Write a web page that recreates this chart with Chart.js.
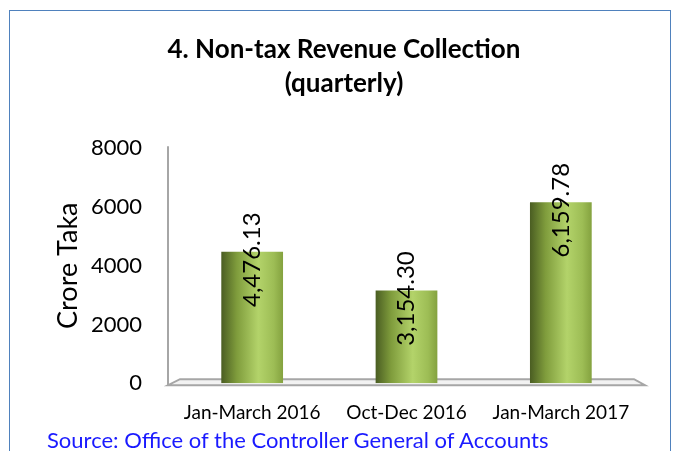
<!DOCTYPE html>
<html>
<head>
<meta charset="utf-8">
<script src="https://cdn.jsdelivr.net/npm/chart.js@4.4.0/dist/chart.umd.min.js"></script>
<style>
  html, body { margin: 0; padding: 0; background: #fff; }
  #wrap { position: relative; width: 680px; height: 451px; overflow: hidden; }
  #frame { position: absolute; left: 9px; top: 10px; width: 662px; height: 460px; border: 1.5px solid #4f81bd; box-sizing: border-box; }
  #src { position: absolute; left: 47px; top: 427px; font: 22px Lato, sans-serif; line-height: 26px; color: #1a1aff; }
  canvas { position: absolute; left: 0; top: 0; }
</style>
</head>
<body>
<div id="wrap">
  <div id="frame"></div>
  <canvas id="c" width="680" height="451"></canvas>
  <div id="src">Source: Office of the Controller General of Accounts</div>
</div>
<script>
const categories = ['Jan-March 2016', 'Oct-Dec 2016', 'Jan-March 2017'];
const revenue = [4476.13, 3154.30, 6159.78];
const yTicks = [0, 2000, 4000, 6000, 8000];

// cylinder-ish shading per bar
function barShade(c) {
  const el = c.chart.getDatasetMeta(0).data[c.dataIndex];
  if (!el || !el.width) return '#9dbd55';
  const g = c.chart.ctx.createLinearGradient(el.x - el.width / 2, 0, el.x + el.width / 2, 0);
  g.addColorStop(0, '#4a5d22');
  g.addColorStop(0.25, '#7f9c3c');
  g.addColorStop(0.6, '#b3d36a');
  g.addColorStop(0.85, '#9dbd55');
  g.addColorStop(1, '#84a23f');
  return g;
}

// 3D floor, y axis line and rotated value labels
const decor = {
  id: 'decor',
  beforeDatasetsDraw(chart) {
    const ctx = chart.ctx;
    const a = chart.chartArea;
    ctx.save();
    ctx.beginPath();
    ctx.moveTo(a.left - 7, a.bottom + 2);
    ctx.lineTo(a.right + 7, a.bottom + 2);
    ctx.lineTo(a.right - 4, a.bottom - 4);
    ctx.lineTo(a.left + 5, a.bottom - 4);
    ctx.closePath();
    ctx.fillStyle = '#f2f2f2';
    ctx.fill();
    ctx.strokeStyle = '#a6a6a6';
    ctx.lineWidth = 2;
    ctx.stroke();
    ctx.beginPath();
    ctx.moveTo(a.left - 7, a.top - 2);
    ctx.lineTo(a.left - 7, a.bottom + 2);
    ctx.stroke();
    ctx.restore();
  },
  afterDatasetsDraw(chart) {
    const ctx = chart.ctx;
    const ds = chart.data.datasets[0];
    ctx.save();
    ctx.font = '24px Lato';
    ctx.fillStyle = '#000';
    ctx.textAlign = 'center';
    ctx.textBaseline = 'middle';
    chart.getDatasetMeta(0).data.forEach((el, i) => {
      const txt = ds.data[i].toLocaleString('en-US', { minimumFractionDigits: 2, maximumFractionDigits: 2 });
      ctx.save();
      ctx.translate(el.x, el.y + 8);
      ctx.rotate(-Math.PI / 2);
      ctx.fillText(txt, 0, 0);
      ctx.restore();
    });
    ctx.restore();
  }
};

const chart = new Chart(document.getElementById('c'), {
  type: 'bar',
  data: {
    labels: categories,
    datasets: [{ data: revenue, backgroundColor: barShade, barPercentage: 0.8, categoryPercentage: 0.5 }]
  },
  options: {
    responsive: false, animation: false,
    layout: { padding: { left: 50, right: 42, top: 0, bottom: 9 } },
    plugins: {
      legend: { display: false },
      tooltip: { enabled: false },
      title: {
        display: true,
        text: ['4. Non-tax Revenue Collection', '(quarterly)'],
        color: '#000',
        font: { family: 'Lato', size: 26, weight: 'bold', lineHeight: 1.33 },
        padding: { top: 32, bottom: 47 }
      }
    },
    scales: {
      x: {
        grid: { display: false, drawTicks: false },
        border: { display: false },
        ticks: { color: '#000', font: { family: 'Lato', size: 19 }, padding: 18, maxRotation: 0 }
      },
      y: {
        min: 0, max: 8000,
        afterBuildTicks: s => { s.ticks = yTicks.map(v => ({ value: v })); },
        afterFit: s => { s.width = 125; },
        grid: { display: false, drawTicks: false },
        border: { display: false },
        ticks: { color: '#000', font: { family: 'Lato', size: 22 }, padding: 33, callback: v => String(v) },
        title: { display: true, text: 'Crore Taka', color: '#000', font: { family: 'Lato', size: 27 }, padding: 2 }
      }
    }
  },
  plugins: [decor]
});
chart.update();
</script>
</body>
</html>
